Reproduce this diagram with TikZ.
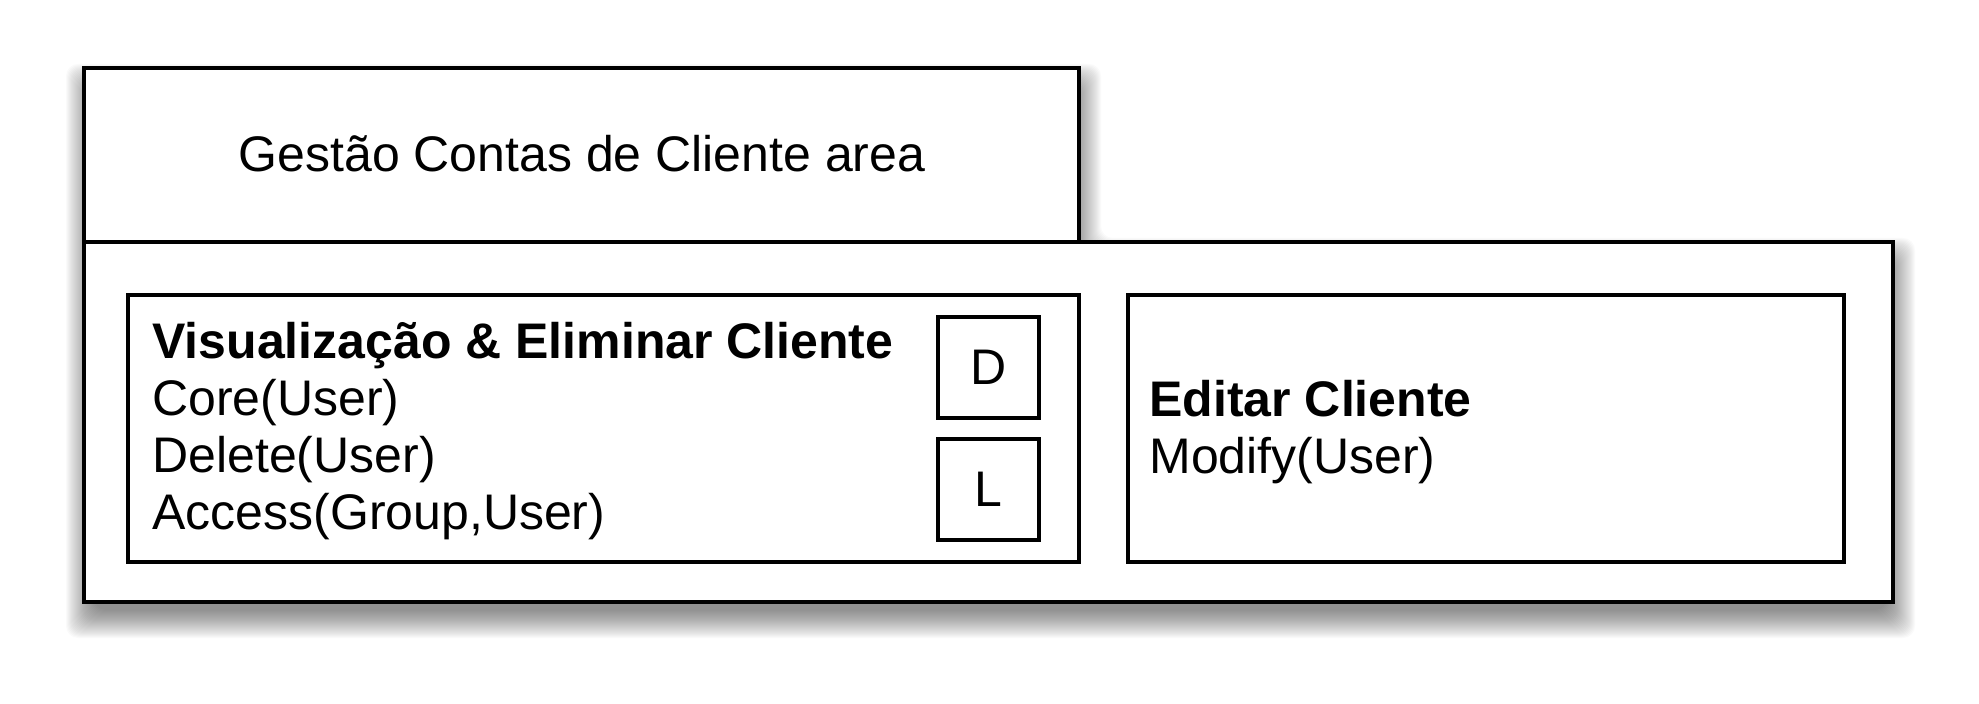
\documentclass[tikz,border=0pt]{standalone}
\usepackage{fontspec}
\setmainfont{Liberation Sans}
\begin{document}
\begin{tikzpicture}[x=0.5pt,y=-0.5pt,
  box/.style={draw=black,line width=1.75pt,fill=white},
  inbox/.style={draw=black,line width=1.6pt,fill=white},
  txt/.style={anchor=base west,inner sep=0pt,font=\fontsize{25}{28.5}\selectfont},
  btxt/.style={txt,font=\fontsize{25}{28.5}\selectfont\bfseries},
  ctr/.style={inner sep=0pt,font=\fontsize{25}{28.5}\selectfont},
  letterbox/.style={inbox,minimum width=50.5pt,minimum height=50.5pt,inner sep=0pt,font=\fontsize{25}{28.5}\selectfont},
  shadowlayer/.style={fill=black,opacity=0.02,rounded corners=6pt}]
\useasboundingbox (0,0) rectangle (1979,704);
% blurred drop shadow
\foreach \r in {-8,-7,...,20}{
  \fill[shadowlayer,shift={(2,16)}]
    (84-\r,68-\r) -- (1079+\r,68-\r) -- (1079+\r,242-\r) -- (1893+\r,242-\r)
    -- (1893+\r,602+\r) -- (84-\r,602+\r) -- cycle;
}
% tab and main body
\draw[box] (84,68) rectangle (1079,242);
\draw[box] (84,242) rectangle (1893,602);
\node[ctr,anchor=base] (title) at (582,172) {Gestão Contas de Cliente area};
% left inner box
\draw[inbox] (128,295) rectangle (1079,562);
\node[btxt] (l1) at (152,359) {Visualização \& Eliminar Cliente};
\node[txt] (l2) at (152,416) {Core(User)};
\node[txt] (l3) at (152,473) {Delete(User)};
\node[txt] (l4) at (152,530) {Access(Group,User)};
\node[letterbox] (D) at (988.5,367.5) {D};
\node[letterbox] (L) at (988.5,489.5) {L};
% right inner box
\draw[inbox] (1128,295) rectangle (1844,562);
\node[btxt] (r1) at (1149,417) {Editar Cliente};
\node[txt] (r2) at (1149,474) {Modify(User)};
\end{tikzpicture}
\end{document}
